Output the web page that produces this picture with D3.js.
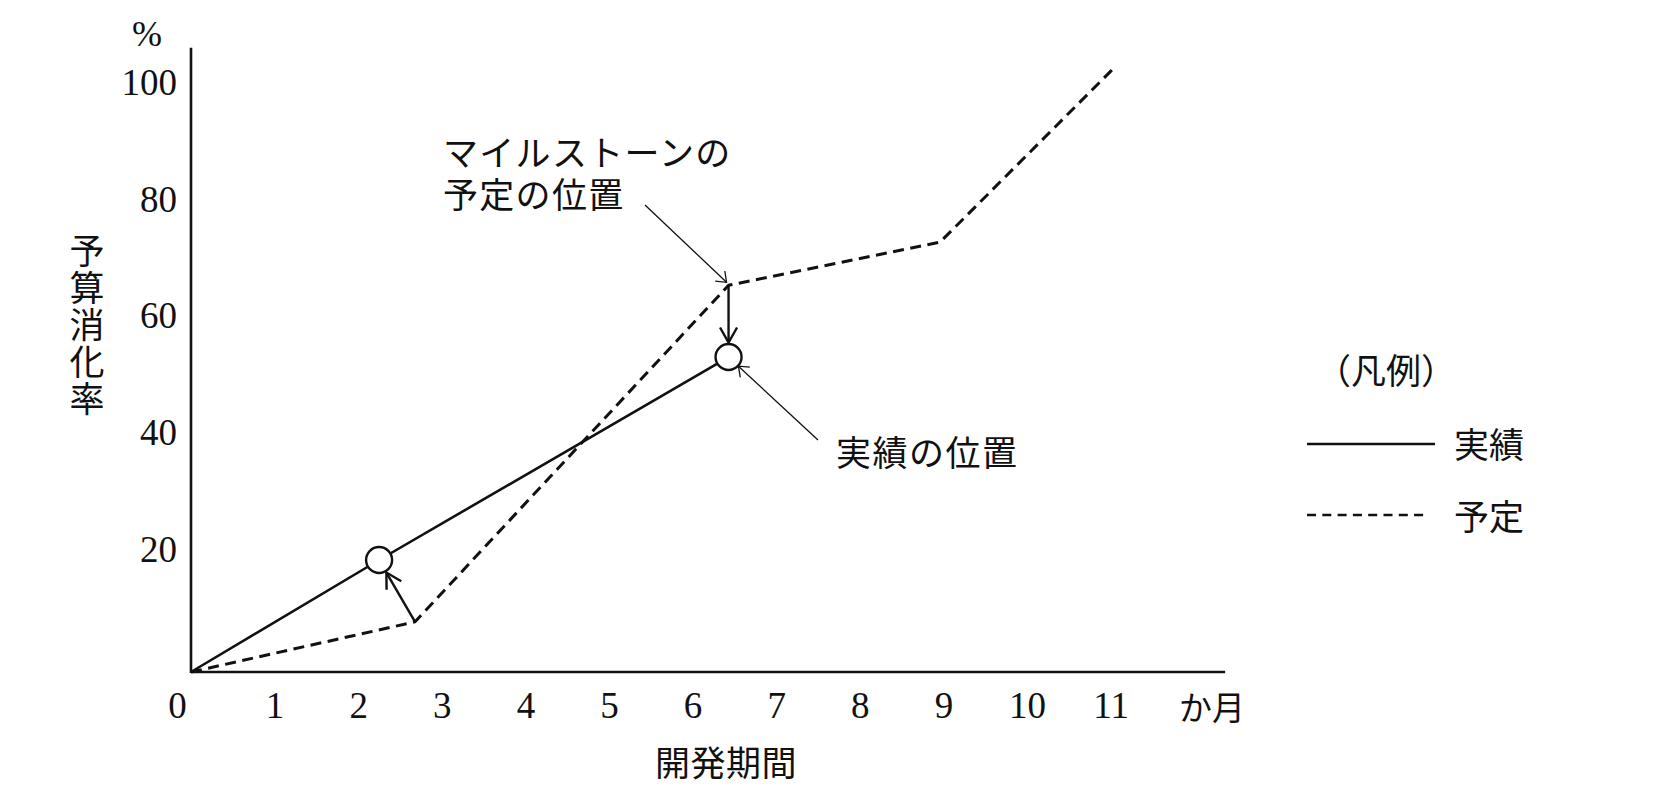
<!DOCTYPE html>
<html><head><meta charset="utf-8">
<script src="https://cdn.jsdelivr.net/npm/d3@7"></script>
<style>body{margin:0;background:#fff;overflow:hidden}</style>
</head><body>
<script>
// ---- data ----
const monthTicks = [0,1,2,3,4,5,6,7,8,9,10,11];
const pctTicks = [20,40,60,80,100];
const actualMonth = [0, 2.25, 6.43];
const actualPct   = [0, 19.2, 54.0];
const planMonth = [0, 2.68, 6.43, 8.96, 11.03];
const planPct   = [0, 8.6, 66.3, 73.7, 103.4];
const milestonePlanIdx = [1, 2];
const milestoneActualIdx = [1, 2];
const xUnit = "か月";
const yUnit = "%";
const xTitle = "開発期間";
const yTitle = "予算消化率";
const noteMilestone = ["マイルストーンの", "予定の位置"];
const noteActual = "実績の位置";
const legendTitle = "（凡例）";
const legendNames = ["実績", "予定"];

// ---- layout ----
const W = 1657, H = 791;
const x = d3.scaleLinear().domain([0, 11]).range([191, 191 + 11 * 83.6]);
const y = d3.scaleLinear().domain([0, 100]).range([672, 672 - 583.3]);
const xEnd = 12.37, yEnd = 107;
const CJK = "'Noto Sans CJK JP','Noto Sans',sans-serif";
const NUM = "'Liberation Serif','DejaVu Serif',serif";

const svg = d3.select("body").append("svg").attr("width", W).attr("height", H);

const defs = svg.append("defs");
defs.append("marker").attr("id","headBold").attr("markerUnits","userSpaceOnUse")
  .attr("viewBox","-20 -12 24 24").attr("refX",0).attr("refY",0)
  .attr("markerWidth",24).attr("markerHeight",24).attr("orient","auto")
  .append("path").attr("d","M-15,-8.5 L0,0 L-15,8.5").attr("fill","none")
  .attr("stroke","#111").attr("stroke-width",2.4);
defs.append("marker").attr("id","headThin").attr("markerUnits","userSpaceOnUse")
  .attr("viewBox","-14 -10 18 20").attr("refX",0).attr("refY",0)
  .attr("markerWidth",18).attr("markerHeight",20).attr("orient","auto")
  .append("path").attr("d","M-9,-7 L0,0 L-9,7").attr("fill","none")
  .attr("stroke","#111").attr("stroke-width",1.3);

// axes lines
svg.append("line").attr("x1", x(0)).attr("x2", x(0)).attr("y1", y(0) + 1).attr("y2", y(yEnd))
  .attr("stroke","#111").attr("stroke-width",2.6);
svg.append("line").attr("x1", x(0)).attr("x2", x(xEnd)).attr("y1", y(0)).attr("y2", y(0))
  .attr("stroke","#111").attr("stroke-width",2.6);

// x axis labels
const gx = svg.append("g").attr("transform", `translate(0,${y(0)})`)
  .call(d3.axisBottom(x).tickValues(monthTicks).tickSize(0).tickPadding(20).tickFormat(d3.format("d")));
gx.select(".domain").remove();
gx.selectAll("text").attr("font-family", NUM).attr("font-size", 37).attr("fill","#111")
  .attr("dx", d => d === 0 ? -14 : 0);

// y axis labels
const gy = svg.append("g").attr("transform", `translate(${x(0)},0)`)
  .call(d3.axisLeft(y).tickValues(pctTicks).tickSize(0).tickPadding(14).tickFormat(d3.format("d")));
gy.select(".domain").remove();
gy.selectAll("text").attr("font-family", NUM).attr("font-size", 37).attr("fill","#111")
  .attr("y", -6);

// units
svg.append("text").attr("x", 147).attr("y", 46).attr("text-anchor","middle")
  .attr("font-family", NUM).attr("font-size", 36).attr("fill","#111").text(yUnit);
svg.append("text").attr("x", 1212).attr("y", 706).attr("text-anchor","middle")
  .attr("dominant-baseline","central")
  .attr("font-family", CJK).attr("font-size", 33).attr("fill","#111").text(xUnit);

// axis titles
svg.append("text").attr("x", 726).attr("y", 760).attr("text-anchor","middle")
  .attr("dominant-baseline","central").attr("letter-spacing", 0.5)
  .attr("font-family", CJK).attr("font-size", 35).attr("fill","#111").text(xTitle);
svg.append("text").attr("x", 87).attr("y", 233)
  .style("writing-mode", "vertical-rl").attr("letter-spacing", 2)
  .attr("font-family", CJK).attr("font-size", 35).attr("fill","#111").text(yTitle);

// lines
const pts = (xs, ys) => xs.map((v, i) => [x(v), y(ys[i])]);
const line = d3.line();
svg.append("path").attr("d", line(pts(planMonth, planPct))).attr("fill","none")
  .attr("stroke","#111").attr("stroke-width",3).attr("stroke-dasharray","11 6.5")
  .attr("stroke-linejoin","round");
const actualPts = pts(actualMonth, actualPct);
svg.append("path").attr("d", line(actualPts)).attr("fill","none")
  .attr("stroke","#111").attr("stroke-width",2.6);

// circles
const R = 13;
svg.selectAll("circle.m").data(actualPts.slice(1)).enter().append("circle")
  .attr("cx", d => d[0]).attr("cy", d => d[1]).attr("r", R)
  .attr("fill","#fff").attr("stroke","#111").attr("stroke-width",2.4);

// milestone arrows (plan -> actual)
milestonePlanIdx.forEach((pi, k) => {
  const ai = milestoneActualIdx[k];
  const p0 = [x(planMonth[pi]), y(planPct[pi])];
  const p1 = [x(actualMonth[ai]), y(actualPct[ai])];
  const dx = p1[0] - p0[0], dy = p1[1] - p0[1], L = Math.hypot(dx, dy);
  const tip = [p1[0] - dx / L * (R + 1.5), p1[1] - dy / L * (R + 1.5)];
  svg.append("line").attr("x1", p0[0]).attr("y1", p0[1]).attr("x2", tip[0]).attr("y2", tip[1])
    .attr("stroke","#111").attr("stroke-width",2.4).attr("marker-end","url(#headBold)");
});

// annotation: milestone planned position
const mp = [x(planMonth[2]), y(planPct[2])];
svg.append("line").attr("x1", 645).attr("y1", 205).attr("x2", mp[0] - 2).attr("y2", mp[1] - 3)
  .attr("stroke","#111").attr("stroke-width",1.3).attr("marker-end","url(#headThin)");
const nm = svg.append("text").attr("font-family", CJK).attr("font-size", 35).attr("fill","#111")
  .attr("dominant-baseline","central").attr("letter-spacing", 1.3);
nm.append("tspan").attr("x", 443).attr("y", 150).text(noteMilestone[0]);
nm.append("tspan").attr("x", 443).attr("y", 192).text(noteMilestone[1]);

// annotation: actual position
const ap = actualPts[2];
const sx = 818, sy = 440;
{
  const dx = ap[0] - sx, dy = ap[1] - sy, L = Math.hypot(dx, dy);
  svg.append("line").attr("x1", sx).attr("y1", sy)
    .attr("x2", ap[0] - dx / L * (R + 0.5)).attr("y2", ap[1] - dy / L * (R + 0.5))
    .attr("stroke","#111").attr("stroke-width",1.3).attr("marker-end","url(#headThin)");
}
svg.append("text").attr("x", 836).attr("y", 450).attr("dominant-baseline","central")
  .attr("letter-spacing", 1.5)
  .attr("font-family", CJK).attr("font-size", 35).attr("fill","#111").text(noteActual);

// legend
svg.append("text").attr("x", 1316).attr("y", 368).attr("dominant-baseline","central")
  .attr("font-family", CJK).attr("font-size", 35).attr("fill","#111").text(legendTitle);
svg.append("line").attr("x1",1307).attr("x2",1435).attr("y1",444).attr("y2",444)
  .attr("stroke","#111").attr("stroke-width",2.6);
svg.append("line").attr("x1",1307).attr("x2",1428).attr("y1",515).attr("y2",515)
  .attr("stroke","#111").attr("stroke-width",2.6).attr("stroke-dasharray","9 6.3");
svg.append("text").attr("x", 1454).attr("y", 442).attr("dominant-baseline","central")
  .attr("font-family", CJK).attr("font-size", 35).attr("fill","#111").text(legendNames[0]);
svg.append("text").attr("x", 1454).attr("y", 514).attr("dominant-baseline","central")
  .attr("font-family", CJK).attr("font-size", 35).attr("fill","#111").text(legendNames[1]);
</script>
</body></html>
